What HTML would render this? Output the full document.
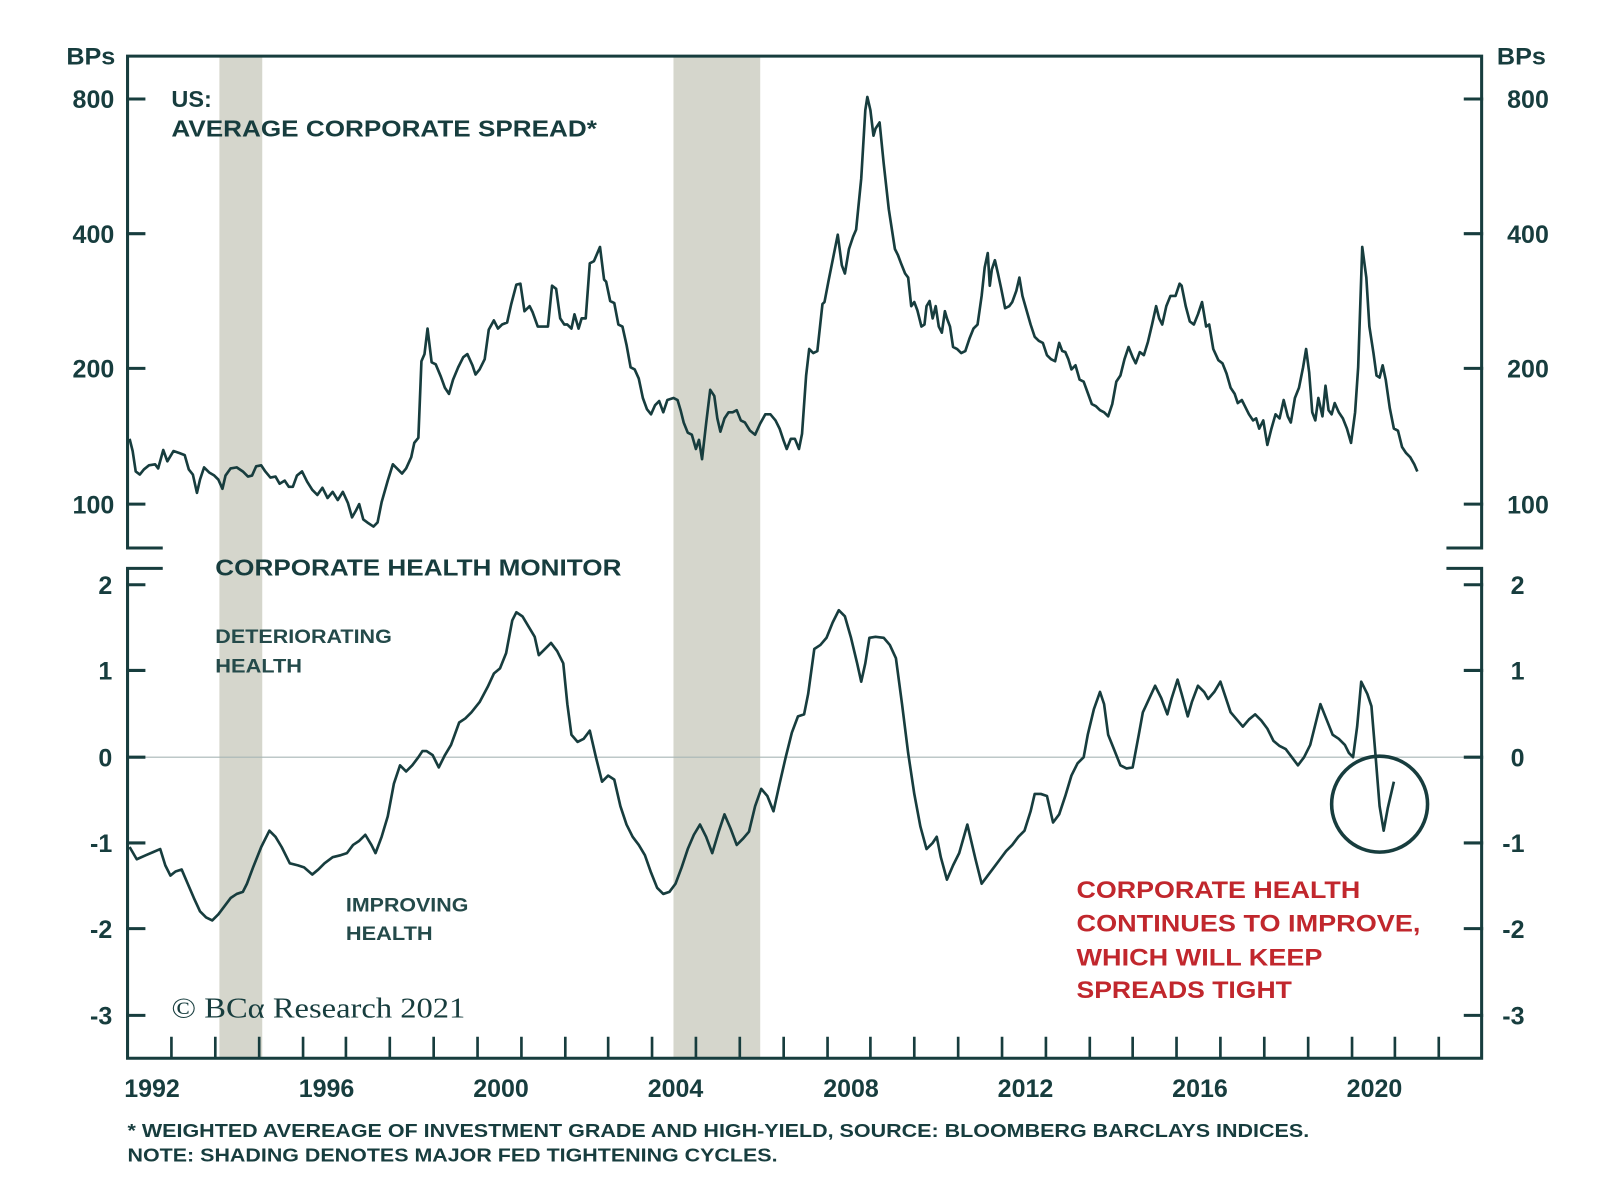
<!DOCTYPE html>
<html><head><meta charset="utf-8"><style>
html,body{margin:0;padding:0;background:#fff;}
svg{display:block;}
text{font-family:"Liberation Sans",Arial,sans-serif;fill:#173d3e;}
</style></head><body>
<svg width="1600" height="1196" viewBox="0 0 1568 1172" preserveAspectRatio="none" xmlns="http://www.w3.org/2000/svg">
<rect width="1568" height="1172" fill="#fff"/>
<!-- shading -->
<rect x="215" y="55" width="42" height="982" fill="#d5d6cc"/>
<rect x="660" y="55" width="85" height="982" fill="#d5d6cc"/>
<!-- zero line -->
<line x1="125" y1="742" x2="1452" y2="742" stroke="#a7b5b5" stroke-width="1.2"/>
<g stroke="#173d3e" stroke-width="3" fill="none" stroke-linecap="square">
<polyline points="158,537 125,537 125,55 1452,55 1452,537 1419,537"/>
<polyline points="158,557 125,557 125,1037 1452,1037 1452,557 1419,557"/>
<path d="M125 97H141M125 229H141M125 361H141M125 494H141M1436 97H1452M1436 229H1452M1436 361H1452M1436 494H1452"/>
<path d="M125 573H141M125 657H141M125 742H141M125 826H141M125 910H141M125 995H141M1436 573H1452M1436 657H1452M1436 742H1452M1436 826H1452M1436 910H1452M1436 995H1452"/>
</g>
<g stroke="#173d3e" stroke-width="2.6">
<path d="M168 1037V1016M211 1037V1016M254 1037V1016M297 1037V1016M339 1037V1016M382 1037V1016M425 1037V1016M468 1037V1016M511 1037V1016M554 1037V1016M596 1037V1016M639 1037V1016M682 1037V1016M725 1037V1016M768 1037V1016M811 1037V1016M853 1037V1016M896 1037V1016M939 1037V1016M982 1037V1016M1025 1037V1016M1068 1037V1016M1110 1037V1016M1153 1037V1016M1196 1037V1016M1239 1037V1016M1282 1037V1016M1325 1037V1016M1367 1037V1016M1410 1037V1016"/>
</g>
<!-- upper series -->
<polyline fill="none" stroke="#173d3e" stroke-width="2.6" stroke-linejoin="round" points="127,430 130,442 133,462 137,465 141,460 146,456 152,455 155,459 160,441 164,452 170,442 176,444 181,446 185,460 189,465 193,483 196,470 200,458 205,463 210,466 214,470 218,479 221,466 226,459 232,458 238,462 243,467 247,466 251,457 256,456 260,462 265,468 270,467 274,474 279,471 283,477 287,477 291,466 296,462 301,472 306,480 311,485 316,478 321,488 326,482 331,490 336,482 341,493 345,507 349,500 352,494 356,509 360,512 366,516 370,512 374,492 380,471 385,455 390,460 394,464 398,459 403,448 406,434 410,429 413,354 416,347 419,322 423,355 427,357 432,369 436,380 440,386 444,372 449,360 454,350 458,347 463,358 466,367 470,362 475,352 479,323 484,314 488,322 492,318 497,316 501,298 506,279 510,278 514,305 519,300 522,306 527,320 532,320 537,320 541,280 545,283 549,312 553,318 556,318 560,322 563,308 567,322 570,312 574,312 578,258 582,256 588,242 592,274 594,276 598,295 602,297 606,318 610,320 614,338 618,360 622,362 626,371 630,390 634,401 638,406 642,397 646,393 650,404 654,392 660,390 664,392 667,402 670,414 674,424 678,426 682,440 685,431 688,450 692,415 696,382 700,388 703,410 706,423 710,410 714,404 718,404 722,402 726,412 730,414 735,422 740,426 745,415 750,406 755,406 760,412 764,420 768,432 771,440 775,430 779,430 783,440 786,425 790,368 793,342 797,346 801,344 806,298 808,296 812,275 817,250 821,230 825,260 828,268 832,244 836,232 839,225 844,175 848,108 850,95 853,108 856,133 858,126 862,120 866,160 871,205 877,244 880,250 883,258 887,268 890,272 893,300 896,296 899,304 903,320 906,318 908,300 911,295 914,312 917,300 920,320 923,326 926,305 928,312 931,320 934,340 938,342 942,346 946,344 950,332 954,322 958,318 962,290 965,262 968,248 970,280 972,264 975,255 978,268 981,282 985,302 989,300 992,296 996,285 999,272 1002,290 1006,304 1010,318 1014,330 1018,334 1022,336 1026,348 1030,352 1034,354 1038,336 1041,344 1044,345 1047,352 1050,362 1054,358 1058,372 1062,374 1066,385 1070,396 1074,398 1078,402 1082,404 1086,408 1090,396 1094,374 1098,368 1102,352 1106,340 1110,350 1113,356 1117,345 1121,348 1125,335 1129,318 1133,300 1136,312 1139,318 1143,300 1147,290 1152,290 1156,278 1158,280 1162,300 1166,315 1170,318 1174,308 1178,296 1182,320 1185,318 1189,342 1194,353 1198,356 1202,366 1206,380 1210,386 1213,395 1217,392 1221,400 1224,406 1228,412 1231,410 1234,420 1238,412 1242,436 1246,420 1250,406 1254,410 1258,392 1262,408 1265,414 1269,390 1273,380 1277,360 1280,342 1283,365 1286,404 1289,412 1292,390 1296,408 1299,378 1302,402 1305,406 1308,395 1312,404 1316,410 1320,420 1324,434 1328,404 1331,360 1335,242 1339,272 1342,320 1346,346 1349,368 1352,370 1355,358 1358,372 1362,400 1366,420 1370,422 1374,438 1378,444 1382,448 1386,455 1389,462"/>
<!-- lower series -->
<polyline fill="none" stroke="#173d3e" stroke-width="2.6" stroke-linejoin="round" points="127,830 134,842 143,838 150,835 157,832 162,848 167,858 172,854 178,852 184,866 190,880 196,893 202,899 208,902 214,896 220,888 226,880 232,876 238,874 242,866 248,850 256,830 264,814 270,820 276,830 284,846 292,848 298,850 306,857 312,852 318,846 326,840 334,838 340,836 346,828 352,824 358,818 364,828 368,836 374,820 380,800 386,768 392,750 398,756 404,750 410,742 414,736 418,736 424,740 430,752 436,740 442,730 450,708 456,704 462,698 470,688 478,673 484,660 490,655 496,640 502,608 506,600 512,604 518,614 524,624 528,642 534,636 540,630 546,638 552,650 556,690 560,720 566,727 572,724 578,716 584,742 590,766 596,760 602,764 608,790 614,808 620,820 626,828 632,838 638,855 644,870 650,876 656,874 662,866 668,850 674,832 680,818 686,808 692,820 698,836 704,816 710,798 716,812 722,828 728,822 734,815 740,790 746,773 752,780 758,795 764,768 770,742 776,718 782,702 788,700 792,680 798,636 804,632 810,625 816,610 822,598 828,604 834,625 840,650 844,668 848,650 852,625 858,624 866,625 872,632 878,645 884,690 890,738 896,778 902,810 908,832 914,826 918,820 922,840 928,862 934,848 940,836 948,808 956,842 962,866 968,858 974,850 980,842 986,834 992,828 998,820 1004,814 1010,795 1014,778 1020,778 1026,780 1032,806 1038,798 1044,780 1050,760 1056,748 1062,742 1066,720 1072,695 1078,678 1082,690 1086,720 1092,735 1098,750 1104,753 1110,752 1116,720 1120,698 1126,685 1132,672 1138,684 1144,700 1148,685 1154,666 1158,680 1164,702 1168,688 1174,672 1180,678 1184,685 1190,678 1196,668 1200,680 1206,698 1212,705 1218,712 1224,705 1230,700 1236,706 1242,714 1248,726 1254,731 1260,734 1266,742 1272,750 1278,742 1284,730 1290,706 1294,690 1300,705 1306,720 1312,724 1318,730 1322,738 1326,742 1330,712 1334,668 1340,680 1344,692 1348,740 1352,790 1356,814 1360,792 1366,766"/>
<!-- circle -->
<ellipse cx="1352" cy="788" rx="47" ry="47" fill="none" stroke="#173d3e" stroke-width="3.5"/>

<!-- axis labels -->
<g font-weight="bold" font-size="24">
<text x="65" y="63" textLength="48" lengthAdjust="spacingAndGlyphs">BPs</text>
<text x="1467" y="63" textLength="48" lengthAdjust="spacingAndGlyphs">BPs</text>
</g>
<g font-weight="bold" font-size="24.5" text-anchor="end">
<text x="112" y="106">800</text>
<text x="112" y="238">400</text>
<text x="112" y="370">200</text>
<text x="112" y="503">100</text>
<text x="110" y="582">2</text>
<text x="110" y="666">1</text>
<text x="110" y="751">0</text>
<text x="110" y="835">-1</text>
<text x="110" y="919">-2</text>
<text x="110" y="1004">-3</text>
<text x="1494" y="582">2</text>
<text x="1494" y="666">1</text>
<text x="1494" y="751">0</text>
<text x="1494" y="835">-1</text>
<text x="1494" y="919">-2</text>
<text x="1494" y="1004">-3</text>
</g>
<g font-weight="bold" font-size="24.5">
<text x="1477" y="106">800</text>
<text x="1477" y="238">400</text>
<text x="1477" y="370">200</text>
<text x="1477" y="503">100</text>
</g>
<g font-weight="bold" font-size="24.5" text-anchor="middle">
<text x="149" y="1075">1992</text>
<text x="320" y="1075">1996</text>
<text x="491" y="1075">2000</text>
<text x="662" y="1075">2004</text>
<text x="834" y="1075">2008</text>
<text x="1005" y="1075">2012</text>
<text x="1176" y="1075">2016</text>
<text x="1347" y="1075">2020</text>
</g>
<!-- titles -->
<g font-weight="bold" font-size="23">
<text x="168" y="105">US:</text>
<text x="168" y="134" textLength="417" lengthAdjust="spacingAndGlyphs">AVERAGE CORPORATE SPREAD*</text>
<text x="211" y="564" textLength="398" lengthAdjust="spacingAndGlyphs">CORPORATE HEALTH MONITOR</text>
</g>
<g font-size="19" font-weight="bold" style="fill:#244a4a">
<text x="211" y="630" textLength="173" lengthAdjust="spacingAndGlyphs" style="fill:#244a4a">DETERIORATING</text>
<text x="211" y="659" textLength="85" lengthAdjust="spacingAndGlyphs" style="fill:#244a4a">HEALTH</text>
<text x="339" y="893" textLength="120" lengthAdjust="spacingAndGlyphs" style="fill:#244a4a">IMPROVING</text>
<text x="339" y="921" textLength="85" lengthAdjust="spacingAndGlyphs" style="fill:#244a4a">HEALTH</text>
</g>
<text x="168" y="997" font-size="28" textLength="288" lengthAdjust="spacingAndGlyphs" style="font-family:'Liberation Serif',serif">© BCα Research 2021</text>
<g font-weight="bold" font-size="24">
<text x="1055" y="880" textLength="278" lengthAdjust="spacingAndGlyphs" style="fill:#c1272d">CORPORATE HEALTH</text>
<text x="1055" y="913" textLength="337" lengthAdjust="spacingAndGlyphs" style="fill:#c1272d">CONTINUES TO IMPROVE,</text>
<text x="1055" y="946" textLength="241" lengthAdjust="spacingAndGlyphs" style="fill:#c1272d">WHICH WILL KEEP</text>
<text x="1055" y="978" textLength="211" lengthAdjust="spacingAndGlyphs" style="fill:#c1272d">SPREADS TIGHT</text>
</g>
<!-- footnotes -->
<g font-weight="bold" font-size="18">
<text x="125" y="1114" textLength="1158" lengthAdjust="spacingAndGlyphs">* WEIGHTED AVEREAGE OF INVESTMENT GRADE AND HIGH-YIELD, SOURCE: BLOOMBERG BARCLAYS INDICES.</text>
<text x="125" y="1138" textLength="637" lengthAdjust="spacingAndGlyphs">NOTE: SHADING DENOTES MAJOR FED TIGHTENING CYCLES.</text>
</g>
</svg>
</body></html>
